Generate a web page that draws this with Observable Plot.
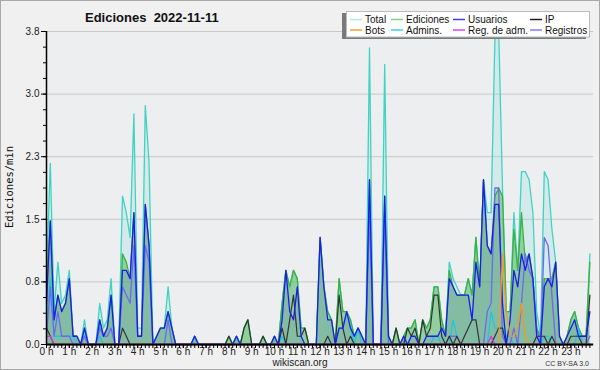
<!DOCTYPE html>
<html><head><meta charset="utf-8">
<script src="https://cdn.jsdelivr.net/npm/d3@7"></script>
<script src="https://cdn.jsdelivr.net/npm/@observablehq/plot@0.6"></script>
<style>
body{margin:0;background:#f0f0f0;}
#chart svg{display:block;}
</style>
</head><body><div id="chart"></div>
<script>
// 10-minute slots, 0..143 (edits per minute)
const total = [0.8,2.2,0.4,1.0,0.5,0.6,0.9,0.1,0.1,0,
0.3,0,0,0,0.5,0.2,0.3,0.8,0,0,
1.8,1.6,1.3,2.8,0.2,0.2,2.9,2.2,0,0.1,
0.2,0.2,0.7,0.2,0,0,0,0,0,0.1,
0,0,0,0,0,0,0,0,0.1,0,
0.1,0,0.2,0.3,0,0,0,0.1,0,0,
0.1,0,0.5,0.9,0.7,0.9,0.8,0.2,0.2,0,
0,0,1.3,0.7,0.4,0.3,0,0.8,0.4,0.4,
0.3,0.1,0.2,0.1,0,3.6,0,0,0,3.4,
0.1,0,0.2,0,0.1,0.2,0.2,0.3,0,0.3,
0.2,0.3,0.7,0.7,0.3,0.1,1.0,0.8,0.7,0.6,
0.6,0.8,0.6,1.3,0.7,2.0,1.6,1.6,3.7,3.8,
1.9,0.4,0.4,1.6,0.9,2.1,2.1,2.0,1.6,0.4,
0.1,2.1,2.0,1.4,1.0,0.1,0,0.1,0.3,0.4,
0.2,0.1,0.1,1.1];
const ediciones = [0.7,1.5,0.3,0.6,0.4,0.5,0.8,0.1,0.1,0,
0.2,0,0,0,0.3,0.1,0.2,0.6,0,0,
1.1,1.0,0.8,1.6,0.1,0.1,1.7,1.2,0,0.1,
0.2,0.2,0.4,0.2,0,0,0,0,0,0.1,
0,0,0,0,0,0,0,0,0.1,0,
0.1,0,0.2,0.3,0,0,0,0.1,0,0,
0.1,0,0.5,0.9,0.7,0.9,0.8,0.2,0.2,0,
0,0,1.3,0.7,0.4,0.3,0,0.8,0.4,0.4,
0.3,0.1,0.2,0.1,0,2.0,0,0,0,1.8,
0.1,0,0.2,0,0.1,0.2,0.2,0.3,0,0.3,
0.2,0.3,0.7,0.7,0.3,0.1,0.9,0.7,0.6,0.6,
0.6,0.8,0.6,1.3,0.7,2.0,1.2,1.1,1.8,1.9,
1.8,0.4,0.4,1.4,0.9,1.6,1.0,1.1,0.8,0.2,
0.1,0.8,0.8,0.8,1.0,0.1,0,0.1,0.3,0.4,
0.2,0.1,0.1,1.0];
const usuarios = [0.5,1.5,0.3,0.6,0.4,0.5,0.8,0.1,0.1,0,
0.2,0,0,0,0.3,0.1,0.2,0.6,0,0,
0.9,0.9,0.8,1.6,0.1,0.1,1.7,1.2,0,0.1,
0.2,0.2,0.4,0.2,0,0,0,0,0,0.1,
0,0,0,0,0,0,0,0,0,0,
0.1,0,0,0,0,0,0,0,0,0,
0.1,0,0.3,0.9,0.4,0.3,0.7,0.1,0,0,
0,0,1.3,0.7,0.3,0.3,0,0.2,0.2,0.4,
0.2,0.1,0.2,0.1,0,2.0,0,0,0,1.8,
0.1,0,0,0,0.1,0,0.1,0.1,0,0,
0.1,0.1,0.1,0.1,0.2,0.1,0.8,0.7,0.6,0.6,
0.6,0.6,0.3,1.0,0.7,2.0,1.2,1.1,1.7,1.7,
0.5,0,0.3,0.9,0.7,1.1,0.9,1.1,0.8,0.1,
0,0.7,0.8,0.7,1.0,0.1,0,0.1,0.2,0.3,
0.1,0.1,0.1,0.4];
const ip = [0.2,0.1,0,0,0,0,0,0,0,0,
0,0,0,0,0,0,0,0,0,0,
0.2,0.1,0,0,0,0,0,0,0,0,
0,0,0,0,0,0,0,0,0,0,
0,0,0,0,0,0,0,0,0.1,0,
0,0,0.2,0.3,0,0,0,0.1,0,0,
0,0,0.2,0,0.3,0.6,0.1,0.1,0.2,0,
0,0,0,0,0.1,0,0,0.6,0.2,0,
0.1,0,0,0,0,0,0,0,0,0,
0,0,0.2,0,0,0.2,0.1,0.2,0,0.3,
0.1,0.2,0.6,0.6,0.1,0,0.1,0,0.1,0,
0.1,0.2,0.3,0.3,0,0,0,0,0.1,0.2,
0.2,0,0,0,0,0,0,0,0,0.1,
0.1,0.1,0,0.1,0,0,0,0,0.1,0.1,
0.1,0,0,0.6];
const bots = [0,0,0,0,0,0,0,0,0,0, 0,0,0,0,0,0,0,0,0,0,
0,0,0,0,0,0,0,0,0,0, 0,0,0,0,0,0,0,0,0,0,
0,0,0,0,0,0,0,0,0,0, 0,0,0,0,0,0,0,0,0,0,
0,0,0,0,0,0,0,0,0,0, 0,0,0,0,0,0,0,0,0,0,
0,0,0,0,0,0,0,0,0,0, 0,0,0,0,0,0,0,0,0,0,
0,0,0,0,0,0,0,0,0,0, 0,0,0,0,0,0,0,0,0,0,
1.1,0.4,0.1,0.1,0.2,0.5,0.1,0,0,0,
0,0,0,0,0,0,0,0,0,0, 0,0,0,0];
const admins = [0.3,0.8,0.1,0.1,0.1,0.1,0.1,0.1,0,0,
0.2,0,0,0,0.1,0,0,0,0,0,
0,0,0,0,0,0,0,0,0,0, 0,0,0,0,0,0,0,0,0,0.1,
0,0,0,0,0,0,0,0,0,0, 0.1,0,0,0,0,0,0,0,0,0,
0,0,0.1,0,0,0,0,0,0,0, 0,0,0,0,0,0,0,0.2,0.2,0.4,
0.2,0,0.2,0,0,0,0,0,0,0, 0,0,0,0,0,0,0,0,0,0,
0,0,0.1,0.1,0,0,0,0.3,0.1,0,
0,0,0,0,0,0,0,0.4,0.2,0.2,
0.2,0.1,0.1,0,0,0,0,0,0,0,
0,0.1,0.1,0,0,0,0,0,0,0,
0.2,0,0,0];
const registros = [0.1,0.7,0.1,0.4,0.1,0.1,0.1,0,0,0,
0.1,0,0,0,0.2,0.1,0.1,0.2,0,0,
0.7,0.6,0.5,1.2,0.1,0.1,1.2,1.0,0,0,
0,0,0.3,0,0,0,0,0,0,0,
0,0,0,0,0,0,0,0,0,0, 0,0,0,0,0,0,0,0,0,0,
0,0,0,0,0,0,0,0,0,0, 0,0,0,0,0,0,0,0,0,0,
0,0,0,0,0,1.6,0,0,0,1.6,
0,0,0,0,0,0,0,0,0,0, 0,0,0,0,0,0,0.1,0.1,0.1,0,
0,0,0,0,0,0,0.4,0.5,1.9,1.9,
0.1,0,0,0.2,0,0.5,1.1,0.9,0.8,0.2,
0,1.3,1.2,0.6,0,0,0,0,0,0,
0,0,0,0.1];
const regAdm = [0.1,0.1,0,0,0,0,0,0,0,0, 0,0,0,0,0,0,0,0,0,0,
0,0,0,0,0,0,0,0,0,0, 0,0,0,0,0,0,0,0,0,0,
0,0,0,0,0,0,0,0,0,0, 0,0,0,0,0,0,0,0,0,0,
0,0,0,0,0,0,0,0,0,0, 0,0,0,0,0,0,0,0,0,0,
0,0,0,0,0,0,0,0,0,0, 0,0,0,0,0,0,0,0,0,0,
0,0,0,0,0,0,0,0,0,0, 0,0,0,0,0,0,0,0.1,0,0,
0,0,0,0,0,0,0,0,0,0, 0,0,0,0,0,0,0,0,0,0, 0,0,0,0];

const hourLabels = d3.range(0,24).map(h => h + " h");
const yTicks = [0, 0.76, 1.52, 2.28, 3.04, 3.8];
const yMinor = d3.range(0, 21).map(k => k * 0.19);

const data = total.map((t, i) => ({
  h: i / 6, total: t, ed: ediciones[i], usr: usuarios[i], ip: ip[i],
  bots: bots[i], admins: admins[i], reg: registros[i], regadm: regAdm[i]
}));

const series = [
  {name:"Total", key:"total", color:"#3fd3c3", legend:"#a8ece4"},
  {name:"Ediciones", key:"ed", color:"#3cb043", legend:"#7fd07f"},
  {name:"Usuarios", key:"usr", color:"#1c1cf0", legend:"#3c3cf0"},
  {name:"IP", key:"ip", color:"#333333", legend:"#222222"},
  {name:"Bots", key:"bots", color:"#f39a1e", legend:"#f3a030"},
  {name:"Admins.", key:"admins", color:"#22c4e0", legend:"#40d0e4"},
  {name:"Reg. de adm.", key:"regadm", color:"#e02ee0", legend:"#e040f0"},
  {name:"Registros", key:"reg", color:"#6a6af2", legend:"#8080f0"}
];
const col = Object.fromEntries(series.map(s => [s.key, s.color]));

const chart = Plot.plot({
  width: 600, height: 370,
  marginLeft: 46, marginRight: 6.8, marginTop: 31, marginBottom: 26,
  style: {background: "#f0f0f0", fontFamily: "'Liberation Sans', Arial, sans-serif", fontSize: "10px", color: "#222"},
  x: {domain: [0, 24], axis: null, label: null},
  y: {domain: [0, 3.8], axis: null, label: null},
  marks: [
    Plot.frame({fill: "#eceef0", stroke: null}),
    Plot.ruleY(yTicks.slice(1), {stroke: "#c8c8c8", strokeWidth: 1}),
    Plot.areaY(data, {x: "h", y: "total", fill: "#58dccb", fillOpacity: 0.16}),
    Plot.areaY(data, {x: "h", y: "ed", fill: "#4db34f", fillOpacity: 0.5}),
    Plot.areaY(data, {x: "h", y: "usr", fill: "#3a4fd0", fillOpacity: 0.14}),
    Plot.lineY(data, {x: "h", y: "total", stroke: col.total, strokeWidth: 1.3}),
    Plot.lineY(data, {x: "h", y: "ed", stroke: col.ed, strokeWidth: 1.3}),
    Plot.lineY(data, {x: "h", y: "admins", stroke: col.admins, strokeWidth: 1.3}),
    Plot.lineY(data, {x: "h", y: "reg", stroke: col.reg, strokeWidth: 1.3}),
    Plot.lineY(data, {x: "h", y: "ip", stroke: col.ip, strokeWidth: 1.2}),
    Plot.lineY(data, {x: "h", y: "usr", stroke: col.usr, strokeWidth: 1.3}),
    Plot.lineY(data, {x: "h", y: "bots", stroke: col.bots, strokeWidth: 1.3}),
    Plot.lineY(data, {x: "h", y: "regadm", stroke: col.regadm, strokeWidth: 1.3}),
    Plot.axisY(yTicks, {tickSize: 5, tickPadding: 2, tickFormat: d => d.toFixed(1), fontSize: 10, stroke: "#000", label: null}),
    Plot.axisY(yMinor, {tickSize: 3, text: null, stroke: "#000", label: null}),
    Plot.axisX(d3.range(0, 24), {tickSize: 4, tickPadding: -1, tickFormat: d => hourLabels[d], fontSize: 10, textAnchor: "middle", stroke: "#000", label: null}),
    Plot.axisX(d3.range(0, 144).map(i => i / 6), {tickSize: 4, text: null, stroke: "#000", label: null}),
    Plot.ruleX([0], {stroke: "#000", strokeWidth: 1.5}),
    Plot.ruleY([0], {stroke: "#000", strokeWidth: 2})
  ]
});

const svg = d3.select(chart);
// outer border
svg.append("rect").attr("x", 0.5).attr("y", 0.5).attr("width", 599).attr("height", 369)
  .attr("fill", "none").attr("stroke", "#a9a9a9").attr("stroke-width", 1);
// title
svg.append("text").attr("x", 85).attr("y", 22).attr("text-anchor", "start").attr("font-weight", "bold").attr("font-size", 13)
  .attr("fill", "#111").attr("xml:space", "preserve").style("white-space", "pre").text("Ediciones  2022-11-11");
// y label
svg.append("text").attr("transform", "translate(13,187) rotate(-90)").attr("text-anchor", "middle")
  .attr("font-family", "'DejaVu Sans Mono', monospace").attr("font-size", 10.5).attr("fill", "#111").text("Ediciones/min");
// footer
svg.append("text").attr("x", 300).attr("y", 366).attr("text-anchor", "middle").attr("font-size", 10).attr("fill", "#222").text("wikiscan.org");
svg.append("text").attr("x", 589).attr("y", 366).attr("text-anchor", "end").attr("font-size", 7).attr("fill", "#333").text("CC BY-SA 3.0");
// legend
const lg = svg.append("g");
lg.append("rect").attr("x", 342).attr("y", 13).attr("width", 244).attr("height", 26).attr("fill", "#7a7a7a");
lg.append("rect").attr("x", 346.5).attr("y", 11.5).attr("width", 243).attr("height", 25.5).attr("fill", "#fff").attr("stroke", "#bbb");
const colsLine = [350, 391, 453, 530], colsText = [365, 406, 468, 545];
series.forEach((s, k) => {
  const c = k % 4, r = Math.floor(k / 4);
  const yy = 19.5 + r * 10.5;
  lg.append("line").attr("x1", colsLine[c]).attr("x2", colsLine[c] + 12).attr("y1", yy).attr("y2", yy)
    .attr("stroke", s.legend).attr("stroke-width", 1.5);
  lg.append("text").attr("x", colsText[c]).attr("y", yy + 3.6).attr("text-anchor", "start").attr("font-size", 10).attr("fill", "#111").text(s.name);
});
document.getElementById("chart").appendChild(chart);
</script>
</body></html>
